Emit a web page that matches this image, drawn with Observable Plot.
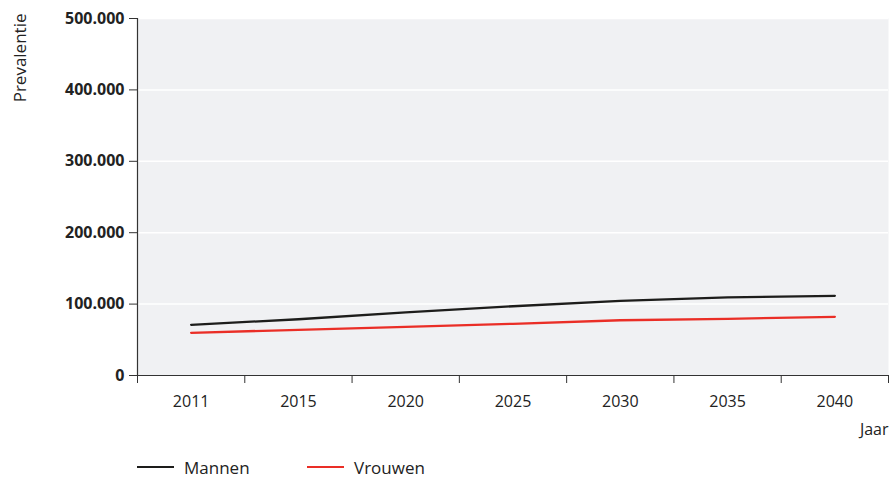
<!DOCTYPE html>
<html>
<head>
<meta charset="utf-8">
<script src="https://cdn.jsdelivr.net/npm/d3@7"></script>
<script src="https://cdn.jsdelivr.net/npm/@observablehq/plot@0.6"></script>
<style>
  html, body { margin: 0; padding: 0; background: #fff; }
  body { font-family: "Open Sans", sans-serif; color: #222; width: 892px; height: 477px; overflow: hidden; }
  #legend { display: flex; padding-left: 137px; height: 24px; align-items: center; font-size: 17px; color: #222; }
  #legend .item { display: flex; align-items: center; width: 170px; }
  #legend .sw { width: 37px; height: 2.5px; margin-right: 10px; }
</style>
</head>
<body>
<div id="chart"></div>
<div id="legend"></div>
<script>
const years = ["2011", "2015", "2020", "2025", "2030", "2035", "2040"];
const mannen = [71000, 78800, 88500, 97000, 104500, 109500, 111600];
const vrouwen = [59800, 64000, 68200, 72400, 77400, 79400, 82200];
const series = ["Mannen", "Vrouwen"];
const colors = ["#1d1d1b", "#ea2e26"];
const yTicks = [0, 100000, 200000, 300000, 400000, 500000];

const rows = years.flatMap((y, i) => [
  {i, year: y, sex: "Mannen", v: mannen[i]},
  {i, year: y, sex: "Vrouwen", v: vrouwen[i]}
]);
const idx = years.map((_, i) => i);
const bounds = d3.range(years.length + 1).map(i => i - 0.5);
const fmt = d => d3.format(",")(d).replace(/,/g, ".");

const plot = Plot.plot({
  width: 892,
  height: 455,
  marginLeft: 137,
  marginRight: 4,
  marginTop: 18,
  marginBottom: 80,
  style: {fontFamily: "Open Sans, sans-serif", fontSize: "16px", color: "#222", background: "white"},
  x: {type: "linear", domain: [-0.5, years.length - 0.5]},
  y: {domain: [0, 500000]},
  color: {domain: series, range: colors},
  marks: [
    Plot.frame({fill: "#f0f1f3", stroke: "none"}),
    Plot.ruleY(yTicks.slice(1), {stroke: "white", strokeWidth: 1.5}),
    Plot.ruleY([0], {stroke: "#333", strokeWidth: 1.2}),
    Plot.ruleX([-0.5], {stroke: "#333", strokeWidth: 1.2}),
    Plot.axisY(yTicks, {tickSize: 8, tickPadding: 5, tickFormat: fmt, fontWeight: "bold", fontSize: 16, label: null, stroke: "#333"}),
    Plot.axisX(bounds, {tickSize: 8, tickFormat: () => "", label: null, stroke: "#333"}),
    Plot.axisX(idx, {tickSize: 0, tickPadding: 20, tickFormat: i => years[i], fontSize: 16, label: null}),
    Plot.line(rows, {x: "i", y: "v", z: "sex", stroke: "sex", strokeWidth: 2.3}),
    Plot.text(["Prevalentie"], {frameAnchor: "top-left", rotate: -90, textAnchor: "end", lineAnchor: "middle", dx: -117, dy: -5, fontSize: 17, fill: "#222"}),
    Plot.text(["Jaar"], {frameAnchor: "bottom-right", textAnchor: "end", lineAnchor: "middle", dy: 54, fontSize: 16, fill: "#222"})
  ]
});
document.getElementById("chart").appendChild(plot);

const legend = document.getElementById("legend");
series.forEach((s, k) => {
  const item = document.createElement("div");
  item.className = "item";
  const sw = document.createElement("span");
  sw.className = "sw";
  sw.style.background = colors[k];
  const t = document.createElement("span");
  t.textContent = s;
  item.appendChild(sw);
  item.appendChild(t);
  legend.appendChild(item);
});
</script>
</body>
</html>
